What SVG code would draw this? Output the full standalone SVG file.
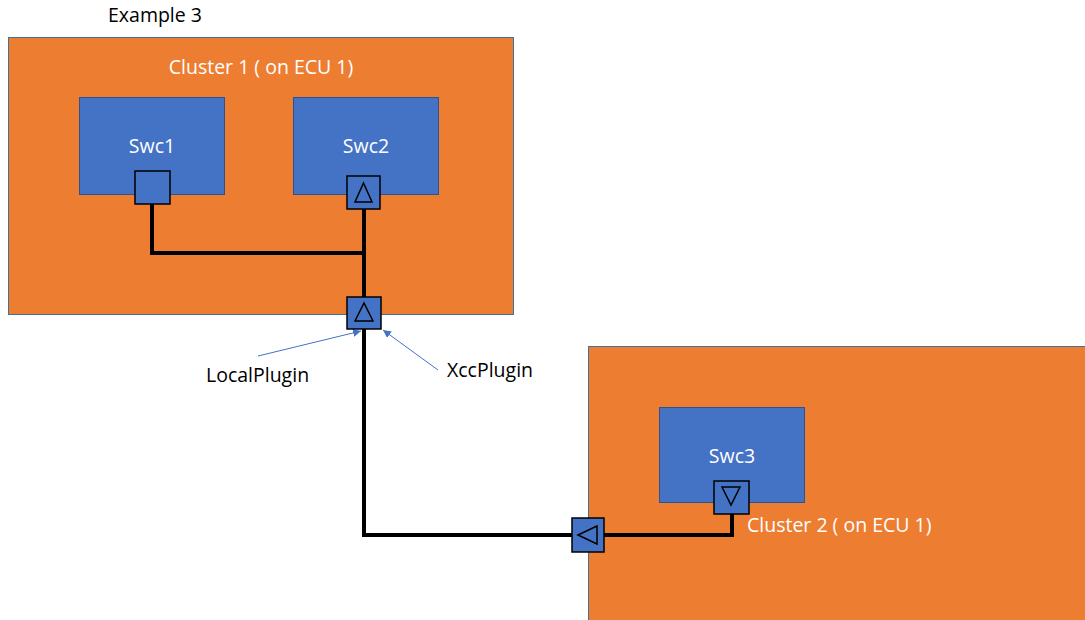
<svg xmlns="http://www.w3.org/2000/svg" width="1085" height="620" viewBox="0 0 1085 620">
<defs>
<style>
.cluster{fill:#ED7D31;stroke:#41719C;stroke-width:1}
.swc{fill:#4472C4;stroke:#2F528F;stroke-width:1}
.port{fill:#4472C4;stroke:#000;stroke-width:1.5}
.tri{fill:none;stroke:#000;stroke-width:1.5}
.wire{fill:none;stroke:#000;stroke-width:4}
.lead{fill:none;stroke:#4472C4;stroke-width:1}
.wt{font-family:"Open Sans","Liberation Sans",Arial,sans-serif;font-size:19.5px;fill:#fff}
.bt{font-family:"Open Sans","Liberation Sans",Arial,sans-serif;font-size:19.5px;fill:#000}
</style>
<marker id="ah" viewBox="0 0 10 10" refX="10" refY="5" markerWidth="8" markerHeight="8" orient="auto" markerUnits="userSpaceOnUse">
<path d="M0,0 L10,5 L0,10 z" fill="#4472C4"/>
</marker>
</defs>
<rect width="1085" height="620" fill="#fff"/>
<text class="bt" x="108" y="22">Example 3</text>
<g id="cluster1">
<rect class="cluster" x="8.5" y="37.5" width="505" height="277"/>
<text class="wt" x="261" y="74" text-anchor="middle">Cluster 1 ( on ECU 1)</text>
</g>
<g id="cluster2">
<rect class="cluster" x="588.5" y="346.5" width="500" height="280"/>
<text class="wt" x="747" y="532">Cluster 2 ( on ECU 1)</text>
</g>
<g id="swc1">
<rect class="swc" x="79.5" y="97.5" width="145" height="97"/>
<text class="wt" x="152" y="153" text-anchor="middle">Swc1</text>
</g>
<g id="swc2">
<rect class="swc" x="293.5" y="97.5" width="145" height="97"/>
<text class="wt" x="366" y="153" text-anchor="middle">Swc2</text>
</g>
<g id="swc3">
<rect class="swc" x="659.5" y="407.5" width="145" height="95"/>
<text class="wt" x="732" y="463" text-anchor="middle">Swc3</text>
</g>
<g id="connectors">
<polyline class="wire" points="152,204 152,253 364,253"/>
<line class="wire" x1="364" y1="209" x2="364" y2="297"/>
<polyline class="wire" points="364,329 364,535 572,535"/>
<polyline class="wire" points="604,535 732,535 732,514"/>
<line class="lead" x1="258" y1="356" x2="361" y2="331" marker-end="url(#ah)"/>
<line class="lead" x1="438" y1="370" x2="383" y2="330" marker-end="url(#ah)"/>
</g>
<g id="port-swc1">
<rect class="port" x="135" y="171" width="35" height="33"/>
</g>
<g id="port-swc2">
<rect class="port" x="347" y="176" width="33" height="33"/>
<polygon class="tri" points="363.5,183 355,202 372,202"/>
</g>
<g id="port-cluster1">
<rect class="port" x="347" y="297" width="34" height="32"/>
<polygon class="tri" points="364,303 355,321 373,321"/>
</g>
<g id="port-cluster2">
<rect class="port" x="572" y="518" width="32" height="34"/>
<polygon class="tri" points="578,535 597,526 597,544"/>
</g>
<g id="port-swc3">
<rect class="port" x="714" y="481" width="35" height="33"/>
<polygon class="tri" points="722,487 740,487 731,505"/>
</g>
<g id="labels">
<text class="bt" x="206" y="382">LocalPlugin</text>
<text class="bt" x="447" y="377">XccPlugin</text>
</g>
</svg>
